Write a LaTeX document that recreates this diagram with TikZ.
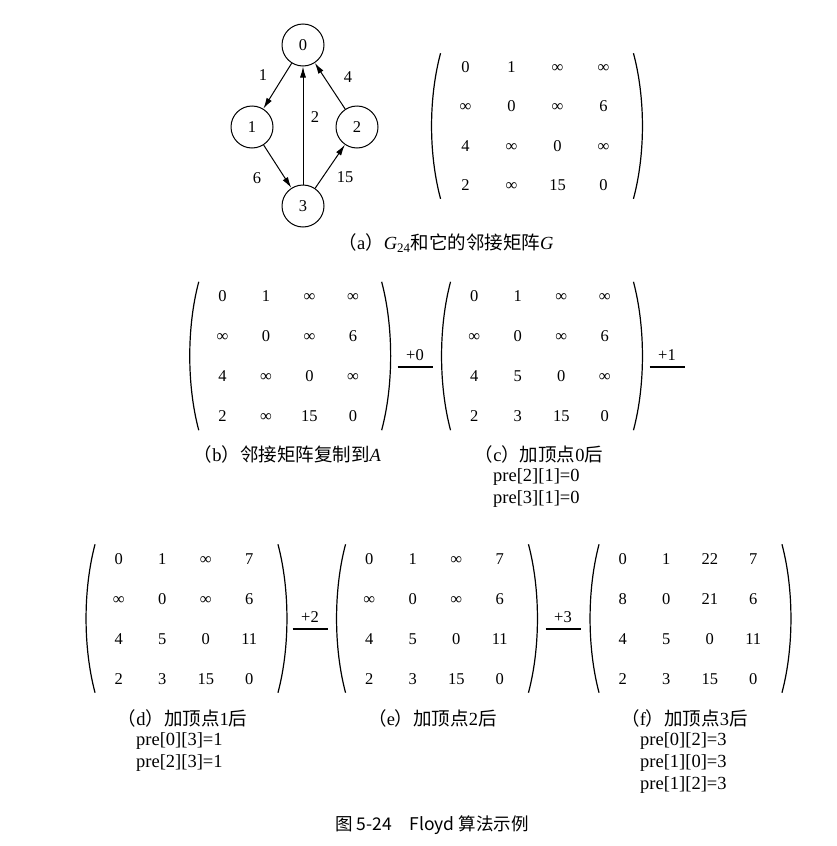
\documentclass[tikz,border=0pt]{standalone}
\usepackage{fontspec}
\setmainfont{Liberation Serif}
\newfontfamily\cjk{Noto Sans CJK SC}
\usetikzlibrary{arrows.meta,matrix}

\begin{document}
\begin{tikzpicture}[
      x=1pt, y=-1pt,
      vertex/.style={
         circle,
         draw=black,
         line width=1pt,
         inner sep=0pt,
         minimum size=42pt,
         font=\fontsize{16.5}{18}\selectfont},
      wlabel/.style={
         inner sep=0pt,
         font=\fontsize{16.5}{18}\selectfont},
      edgearrow/.style={line width=1pt,-{Latex[length=11pt,width=6pt]}},
      adjmat/.style={
         matrix of nodes,
         inner sep=0pt,
         nodes={cell}},
      cell/.style={
         inner sep=0pt,
         anchor=center,
         minimum width=43.5pt,
         minimum height=40pt,
         text height=11pt,
         text depth=0pt,
         font=\fontsize{16.5}{18}\selectfont},
      paren/.style={line width=1.2pt},
      stepop/.style={line width=1.2pt},
      subcap/.style={
         inner sep=0pt,
         font=\fontsize{18.5}{22}\selectfont},
      preline/.style={
         inner sep=0pt,
         anchor=base west,
         font=\fontsize{18.5}{22}\selectfont}
      ]
      \useasboundingbox (0,0) rectangle (837,846);
      % graph G24
      \node[vertex] (v0) at (303,45) {0};
      \node[vertex] (v1) at (252,127) {1};
      \node[vertex] (v2) at (357,127) {2};
      \node[vertex] (v3) at (303,206) {3};
    \foreach \i/\j in {v0/v1, v3/v0, v2/v0, v1/v3, v3/v2}
       \draw[edgearrow] (\i) -- (\j);
    \foreach \txt/\lx/\ly/\n in {1/263/75/a, 4/348/77/b, 2/315/117/c, 6/257/178/d, 15/345/177/e}
       \node[wlabel] (w\n) at (\lx,\ly) {\txt};
      % matrices
      \matrix[adjmat, nodes={minimum width=46pt, minimum height=39.3pt}] (mA) at (534.5,126) {
         0 & 1 & ∞ & ∞ \\
         ∞ & 0 & ∞ & 6 \\
         4 & ∞ & 0 & ∞ \\
         2 & ∞ & 15 & 0 \\};
      \matrix[adjmat] (mB) at (287.7,356) {
         0 & 1 & ∞ & ∞ \\
         ∞ & 0 & ∞ & 6 \\
         4 & ∞ & 0 & ∞ \\
         2 & ∞ & 15 & 0 \\};
      \matrix[adjmat] (mC) at (539.5,356) {
         0 & 1 & ∞ & ∞ \\
         ∞ & 0 & ∞ & 6 \\
         4 & 5 & 0 & ∞ \\
         2 & 3 & 15 & 0 \\};
      \matrix[adjmat] (mD) at (184,618.5) {
         0 & 1 & ∞ & 7 \\
         ∞ & 0 & ∞ & 6 \\
         4 & 5 & 0 & 11 \\
         2 & 3 & 15 & 0 \\};
      \matrix[adjmat] (mE) at (434.5,618.5) {
         0 & 1 & ∞ & 7 \\
         ∞ & 0 & ∞ & 6 \\
         4 & 5 & 0 & 11 \\
         2 & 3 & 15 & 0 \\};
      \matrix[adjmat] (mF) at (688,618.5) {
         0 & 1 & 22 & 7 \\
         8 & 0 & 21 & 6 \\
         4 & 5 & 0 & 11 \\
         2 & 3 & 15 & 0 \\};
    \foreach \m in {mA,mB,mC,mD,mE,mF}{
       \draw[paren] ([xshift=-1.75pt,yshift=-6pt]\m.north west) .. controls +(-12,45) and +(-12,-45) .. ([xshift=-1.75pt,yshift=6pt]\m.south west);
       \draw[paren] ([xshift=6.75pt,yshift=-6pt]\m.north east) .. controls +(12,45) and +(12,-45) .. ([xshift=6.75pt,yshift=6pt]\m.south east);
    }
    \foreach \x/\y/\txt/\n in {415/367/+0/0, 667/367/+1/1, 310/629/+2/2, 563/629/+3/3}
       \draw[stepop] ({\x-17.5},\y) -- node[above=5pt, inner sep=1pt, font=\fontsize{16.5}{18}\selectfont] (op\n) {\txt} ({\x+17.5},\y);
      % captions
      \node[subcap] (capA) at (446,243) {{\cjk（}a{\cjk）}\textit{G}\textsubscript{24}{\cjk 和它的邻接矩阵}\textit{G}};
      \node[subcap] (capB) at (287.5,454) {{\cjk（}b{\cjk）邻接矩阵复制到}\textit{A}};
      \node[subcap] (capC) at (539,454) {{\cjk（}c{\cjk）加顶点}0{\cjk 后}};
      \node[preline] (preC1) at (493,481) {pre[2][1]=0};
      \node[preline] (preC2) at (493,503) {pre[3][1]=0};
      \node[subcap] (capD) at (182.5,718) {{\cjk（}d{\cjk）加顶点}1{\cjk 后}};
      \node[preline] (preD1) at (136,745) {pre[0][3]=1};
      \node[preline] (preD2) at (136,767) {pre[2][3]=1};
      \node[subcap] (capE) at (432.5,718) {{\cjk（}e{\cjk）加顶点}2{\cjk 后}};
      \node[subcap] (capF) at (684.5,718) {{\cjk（}f{\cjk）加顶点}3{\cjk 后}};
      \node[preline] (preF1) at (640,745) {pre[0][2]=3};
      \node[preline] (preF2) at (640,767) {pre[1][0]=3};
      \node[preline] (preF3) at (640,789) {pre[1][2]=3};
      \node[inner sep=0pt, font=\fontsize{17.5}{20}\selectfont] (figcap) at (432,825) {{\cjk 图 5-24}\hspace{1em}{\cjk Floyd 算法示例}};
\end{tikzpicture}
\end{document}
